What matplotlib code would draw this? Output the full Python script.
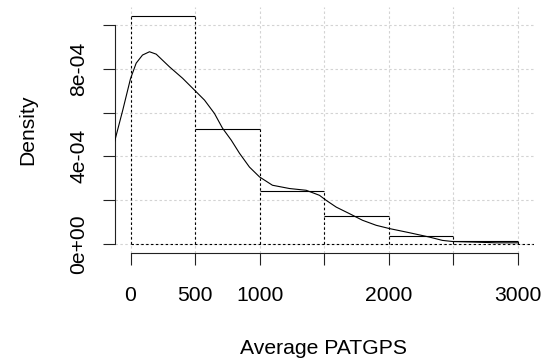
import matplotlib
matplotlib.use("Agg")
import matplotlib.pyplot as plt

# Histogram (density scale)
bin_edges = [0, 500, 1000, 1500, 2000, 2500, 3000]
bin_density = [1.04e-3, 5.27e-4, 2.40e-4, 1.28e-4, 3.8e-5, 1.3e-5]

# Kernel density curve
dens_x = [-124, -60, 0, 44, 93, 147, 199, 302, 403, 495, 573, 650, 712, 780, 844,
          921, 999, 1099, 1231, 1360, 1463, 1515, 1593, 1696, 1796, 1902, 2005,
          2160, 2315, 2415, 2493, 2676, 2831, 2996]
dens_y = [4.66, 6.11, 7.55, 8.26, 8.63, 8.78, 8.67, 8.09, 7.57, 7.03, 6.57, 5.96,
          5.29, 4.74, 4.14, 3.51, 3.06, 2.68, 2.53, 2.45, 2.22, 1.99, 1.68, 1.38,
          1.08, 0.85, 0.70, 0.51, 0.31, 0.16, 0.11, 0.08, 0.05, 0.05]
dens_y = [v * 1e-4 for v in dens_y]

x_ticks = [0, 500, 1000, 1500, 2000, 2500, 3000]
x_tick_labels = ["0", "500", "1000", "", "2000", "", "3000"]
y_ticks = [0, 2e-4, 4e-4, 6e-4, 8e-4, 1e-3]
y_tick_labels = ["0e+00", "", "4e-04", "", "8e-04", ""]

FONT = "Liberation Sans"
FS = 15.2
W, H = 554, 364
fig = plt.figure(figsize=(W / 100, H / 100), dpi=100)
L, R, T, B = 115, 533.5, 7.2, 253
ax = fig.add_axes([L / W, 1 - B / H, (R - L) / W, (B - T) / H])
ax.set_xlim(-120, 3120)
ax.set_ylim(-4.16e-5, 1.0816e-3)

lw = 0.8
dot = (0, (2.2, 2.2))
# grid
for xv in x_ticks:
    ax.axvline(xv, color="#d3d3d3", lw=lw, linestyle=dot, zorder=1)
for yv in y_ticks:
    ax.axhline(yv, color="#d3d3d3", lw=lw, linestyle=dot, zorder=1)

# histogram: solid tops, dotted sides and baseline
for i, d in enumerate(bin_density):
    ax.plot([bin_edges[i], bin_edges[i + 1]], [d, d], color="black", lw=lw,
            solid_capstyle="butt", zorder=3)
for i, e in enumerate(bin_edges):
    left = bin_density[i - 1] if i > 0 else 0
    right = bin_density[i] if i < len(bin_density) else 0
    ax.plot([e, e], [0, max(left, right)], color="black", lw=lw, linestyle=dot, zorder=3)
ax.plot([0, 3200], [0, 0], color="black", lw=lw, linestyle=dot, zorder=3)

# density curve
ax.plot(dens_x, dens_y, color="black", lw=lw, zorder=4)

for s in ["top", "right"]:
    ax.spines[s].set_visible(False)
ax.spines["left"].set_bounds(0, 1e-3)
ax.spines["bottom"].set_bounds(0, 3000)
for s in ["left", "bottom"]:
    ax.spines[s].set_linewidth(lw)
    ax.spines[s].set_color("#222222")

ax.set_xticks(x_ticks)
ax.set_xticklabels(x_tick_labels, fontfamily=FONT, fontsize=FS)
ax.set_yticks(y_ticks)
ax.set_yticklabels(y_tick_labels, fontfamily=FONT, fontsize=FS, rotation=90, va="center")
ax.tick_params(axis="both", direction="out", length=8.8, width=lw, color="#222222")
ax.tick_params(axis="x", pad=15)
ax.tick_params(axis="y", pad=10.3)

fig.text(324 / W, 1 - 353.5 / H, "Average PATGPS", fontfamily=FONT, fontsize=FS,
         ha="center", va="baseline")
fig.text(33 / W, 1 - 130 / H, "Density", fontfamily=FONT, fontsize=FS,
         ha="center", va="baseline", rotation=90, rotation_mode="anchor")

fig.savefig("out.png", dpi=100)
